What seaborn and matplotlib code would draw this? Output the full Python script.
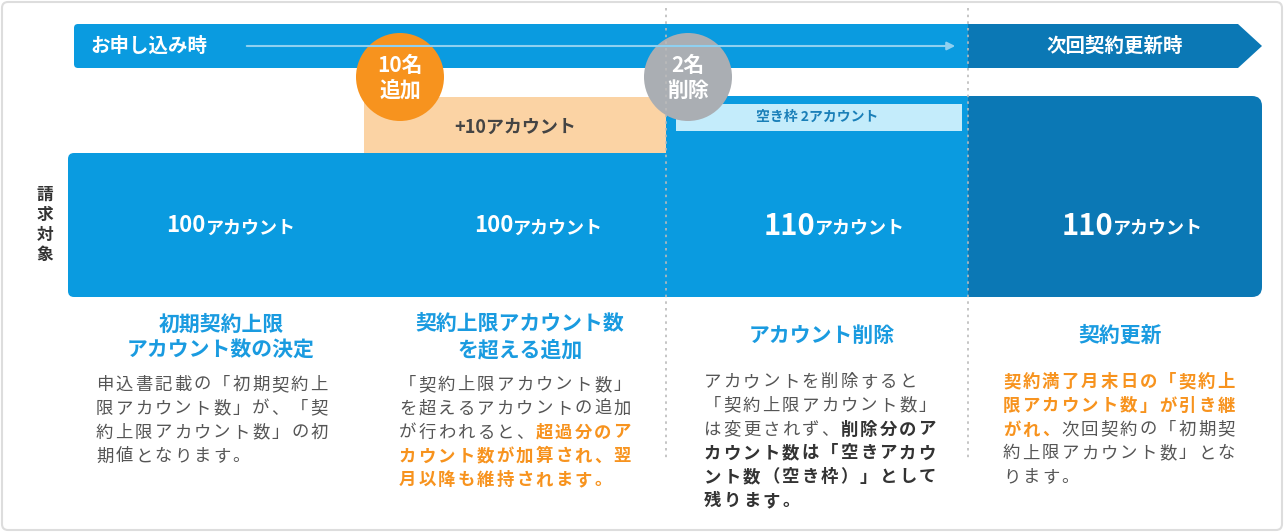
import matplotlib
matplotlib.use("Agg")
import matplotlib.pyplot as plt
import seaborn as sns
from matplotlib.patches import FancyBboxPatch, Polygon, Circle, Rectangle

sns.set_theme(style="white")
plt.rcParams["font.family"] = "Noto Sans CJK JP"

# ---- data ----
stages = ["お申し込み時", "次回契約更新時"]
base_accounts = [100, 100, 110, 110]
added = [0, 10, 0, 0]
empty_slots = [0, 0, 2, 0]
events = ["10名\n追加", "2名\n削除"]
headings = ["初期契約上限\nアカウント数の決定", "契約上限アカウント数\nを超える追加",
            "アカウント削除", "契約更新"]
# body text: list of lines, each line list of (text, style)  n=normal o=orange d=dark bold
bodies = [
    [[("申込書記載の「初期契約上", "n")], [("限アカウント数」が、「契", "n")],
     [("約上限アカウント数」の初", "n")], [("期値となります。", "n")]],
    [[("「契約上限アカウント数」", "n")], [("を超えるアカウントの追加", "n")],
     [("が行われると、", "n"), ("超過分のア", "o")], [("カウント数が加算され、翌", "o")],
     [("月以降も維持されます。", "o")]],
    [[("アカウントを削除すると", "n")], [("「契約上限アカウント数」", "n")],
     [("は変更されず、", "n"), ("削除分のア", "d")], [("カウント数は「空きアカウ", "d")],
     [("ント数（空き枠）」として", "d")], [("残ります。", "d")]],
    [[("契約満了月末日の「契約上", "o")], [("限アカウント数」が引き継", "o")],
     [("がれ、", "o"), ("次回契約の「初期契", "n")], [("約上限アカウント数」とな", "n")],
     [("ります。", "n")]],
]

BLUE = "#0a9be0"
DARK = "#0b78b5"
ORANGE = "#f7931e"
styles = {"n": ("#555555", "normal"), "o": (ORANGE, "bold"), "d": ("#333333", "bold")}

fig = plt.figure(figsize=(12.84, 5.32), dpi=100)
ax = fig.add_axes([0, 0, 1, 1])
ax.set_xlim(0, 1284)
ax.set_ylim(532, 0)
ax.axis("off")

ax.add_patch(FancyBboxPatch((2, 2), 1280, 528, boxstyle="round,pad=0,rounding_size=6",
                            fc="white", ec="#dddddd", lw=1.5))

# timeline arrow
ax.add_patch(FancyBboxPatch((74, 24), 900, 44, boxstyle="round,pad=0,rounding_size=4", fc=BLUE, ec="none"))
ax.add_patch(Polygon([(968, 24), (1238, 24), (1262, 46), (1238, 68), (968, 68)], fc=DARK, ec="none"))
ax.text(90, 46, stages[0], color="white", fontsize=14, fontweight="bold", va="center")
ax.annotate("", xy=(958, 46), xytext=(244, 46),
            arrowprops=dict(arrowstyle="-|>", color="#8fd0f0", lw=1.5))
ax.text(1115, 46, stages[1], color="white", fontsize=14, fontweight="bold", va="center", ha="center")

# columns
cols = [(68, 364), (364, 666), (666, 968), (968, 1262)]
unit = 144 / 100  # px per account in base bar
for i, (x0, x1) in enumerate(cols):
    color = DARK if i == 3 else BLUE
    h = base_accounts[i] * unit
    if base_accounts[i] > 100:
        h = 201
    top = 297 - h
    if i == 3:
        ax.add_patch(FancyBboxPatch((x0, top), x1 - x0, h, boxstyle="round,pad=0,rounding_size=10",
                                    fc=color, ec="none"))
        ax.add_patch(Rectangle((x0, top), 20, h, fc=color, ec="none"))
    elif i == 0:
        ax.add_patch(FancyBboxPatch((x0, top), x1 - x0, h, boxstyle="round,pad=0,rounding_size=6",
                                    fc=color, ec="none"))
        ax.add_patch(Rectangle((x1 - 20, top), 20, h, fc=color, ec="none"))
    else:
        ax.bar(x0, h, width=x1 - x0, bottom=top, align="edge", color=color, lw=0)
    if added[i]:
        ax.bar(x0, 56, width=x1 - x0, bottom=97, align="edge", color="#fbd3a4", lw=0)
        ax.text((x0 + x1) / 2, 127, f"+{added[i]}アカウント", fontsize=13, fontweight="bold",
                color="#444444", ha="center", va="center")
    if empty_slots[i]:
        ax.add_patch(Rectangle((x0 + 10, 104), x1 - x0 - 16, 27, fc="#c4ecfb", ec="none"))
        ax.text((x0 + x1) / 2, 117, f"空き枠 {empty_slots[i]}アカウント", fontsize=10,
                fontweight="bold", color="#1a7fb8", ha="center", va="center")
    cx = (x0 + x1) / 2 + (8 if i else 0)
    big = 21 if base_accounts[i] > 100 else 16
    ax.text(cx, 226, "", ha="center")
    t = ax.annotate(str(base_accounts[i]), (cx - 10, 226), fontsize=big, fontweight="bold",
                    color="white", ha="right", va="center")
    ax.annotate("アカウント", (cx - 10, 228), fontsize=13, fontweight="bold",
                color="white", ha="left", va="center")
    # headings
    hy = 337 if "\n" in headings[i] else 335
    ax.text((x0 + x1) / 2 + 5, hy, headings[i], fontsize=15, fontweight="bold", color="#1a9be0",
            ha="center", va="center", linespacing=1.3)
    # bodies
    bx = [95, 398, 703, 1002][i]
    by = [385, 385, 382, 382][i]
    for li, line in enumerate(bodies[i]):
        k = 0
        for seg, st in line:
            c, w = styles[st]
            for ch in seg:
                ax.text(bx + k * 19.5 + 9.7, by + li * 23.8, ch, fontsize=12.5, color=c,
                        fontweight=w, ha="center", va="center")
                k += 1

# dotted dividers
for x in [666, 968]:
    ax.plot([x, x], [8, 458], color="#bbbbbb", ls=(0, (1.5, 2.5)), lw=1.2)

# event circles
for (x, c), label in zip([(400, ORANGE), (688, "#aaaeb3")], events):
    ax.add_patch(Circle((x, 77), 44, fc=c, ec="none"))
    ax.text(x, 78, label, color="white", fontsize=15, fontweight="bold",
            ha="center", va="center", linespacing=1.2)

ax.text(45, 225, "請\n求\n対\n象", fontsize=12, fontweight="bold", color="#333333",
        ha="center", va="center", linespacing=1.15)

fig.savefig("out.png", dpi=100)
